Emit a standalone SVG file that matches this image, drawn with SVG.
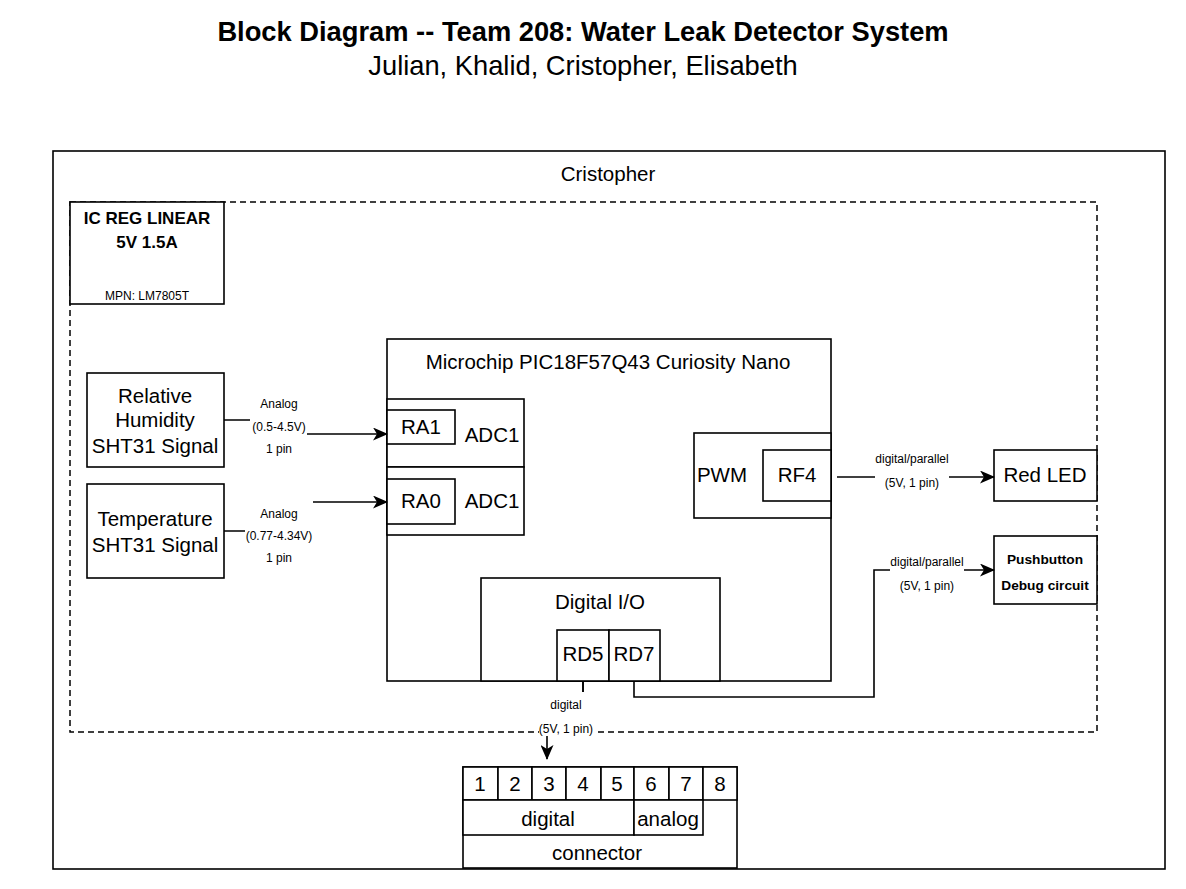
<svg xmlns="http://www.w3.org/2000/svg" width="1186" height="889" viewBox="0 0 1186 889">
<defs>
<style>
.b{fill:#fff;stroke:#000;stroke-width:1.6}
.n{fill:none;stroke:#000;stroke-width:1.6}
.d{fill:none;stroke:#000;stroke-width:1.5;stroke-dasharray:6 4}
text{font-family:"Liberation Sans",Arial,sans-serif;fill:#000;text-anchor:middle}
.t19{font-size:20.5px}
.t11{font-size:12px}
.bold{font-weight:bold}
.lbg{fill:#fff;stroke:none}
</style>
<marker id="arr" viewBox="0 0 15 13" refX="14" refY="6.5" markerWidth="15" markerHeight="13" markerUnits="userSpaceOnUse" orient="auto">
<path d="M0 0 L15 6.5 L0 13 L4 6.5 Z" fill="#000"/>
</marker>
</defs>
<rect width="1186" height="889" fill="#fff"/>
<g id="title">
<text x="583" y="41" class="bold" style="font-size:27.3px">Block Diagram -- Team 208: Water Leak Detector System</text>
<text x="583" y="75" style="font-size:27.3px">Julian, Khalid, Cristopher, Elisabeth</text>
</g>
<g id="outer">
<rect x="53" y="151" width="1112" height="718" class="b"/>
<text x="608" y="181" class="t19">Cristopher</text>
</g>
<g id="dashed">
<rect x="70" y="202" width="1027" height="530" class="d"/>
</g>
<g id="icreg">
<rect x="70" y="202" width="154" height="102" class="b"/>
<text x="147" y="224" class="bold" style="font-size:17px">IC REG LINEAR</text>
<text x="147" y="248" class="bold" style="font-size:17px">5V 1.5A</text>
<text x="147" y="300" class="t11">MPN: LM7805T</text>
</g>
<g id="humidity">
<rect x="87" y="373" width="137" height="94" class="b"/>
<text x="155" y="403" class="t19">Relative</text>
<text x="155" y="427" class="t19">Humidity</text>
<text x="155" y="453" class="t19">SHT31 Signal</text>
</g>
<g id="temperature">
<rect x="87" y="484" width="137" height="94" class="b"/>
<text x="155" y="526" class="t19">Temperature</text>
<text x="155" y="552" class="t19">SHT31 Signal</text>
</g>
<g id="mcu">
<rect x="387" y="339" width="444" height="342" class="b"/>
<text x="608" y="369" class="t19">Microchip PIC18F57Q43 Curiosity Nano</text>
</g>
<g id="adc1a">
<rect x="387" y="399" width="137" height="68" class="b"/>
<text x="492" y="442" class="t19">ADC1</text>
</g>
<g id="ra1">
<rect x="387" y="410" width="68" height="34" class="b"/>
<text x="421" y="434" class="t19">RA1</text>
</g>
<g id="adc1b">
<rect x="387" y="467" width="137" height="68" class="b"/>
<text x="492" y="508" class="t19">ADC1</text>
</g>
<g id="ra0">
<rect x="387" y="479" width="68" height="45" class="b"/>
<text x="421" y="508" class="t19">RA0</text>
</g>
<g id="pwm">
<rect x="694" y="433" width="137" height="85" class="b"/>
<text x="722" y="482" class="t19">PWM</text>
</g>
<g id="rf4">
<rect x="763" y="450" width="68" height="51" class="b"/>
<text x="797" y="482" class="t19">RF4</text>
</g>
<g id="digitalio">
<rect x="481" y="578" width="239" height="103" class="b"/>
<text x="600" y="609" class="t19">Digital I/O</text>
</g>
<g id="rd5">
<rect x="557" y="630" width="52" height="51" class="b"/>
<text x="583" y="661" class="t19">RD5</text>
</g>
<g id="rd7">
<rect x="609" y="630" width="51" height="51" class="b"/>
<text x="634" y="661" class="t19">RD7</text>
</g>
<g id="redled">
<rect x="994" y="450" width="103" height="51" class="b"/>
<text x="1045" y="482" class="t19">Red LED</text>
</g>
<g id="pushbutton">
<rect x="994" y="536" width="103" height="68" class="b"/>
<text x="1045" y="564" class="bold" style="font-size:13.7px">Pushbutton</text>
<text x="1045" y="590" class="bold" style="font-size:13.7px">Debug circuit</text>
</g>
<g id="connector">
<rect x="463" y="767" width="274" height="101" class="b"/>
<rect x="463" y="767" width="35" height="33" class="b"/>
<rect x="498" y="767" width="34" height="33" class="b"/>
<rect x="532" y="767" width="34" height="33" class="b"/>
<rect x="566" y="767" width="35" height="33" class="b"/>
<rect x="601" y="767" width="33" height="33" class="b"/>
<rect x="634" y="767" width="35" height="33" class="b"/>
<rect x="669" y="767" width="34" height="33" class="b"/>
<rect x="703" y="767" width="34" height="33" class="b"/>
<text x="480" y="791" class="t19">1</text>
<text x="515" y="791" class="t19">2</text>
<text x="549" y="791" class="t19">3</text>
<text x="583" y="791" class="t19">4</text>
<text x="617" y="791" class="t19">5</text>
<text x="651" y="791" class="t19">6</text>
<text x="686" y="791" class="t19">7</text>
<text x="720" y="791" class="t19">8</text>
<rect x="463" y="800" width="171" height="35" class="b"/>
<text x="548" y="826" class="t19">digital</text>
<rect x="634" y="800" width="69" height="35" class="b"/>
<text x="668" y="826" class="t19">analog</text>
<text x="597" y="860" class="t19">connector</text>
</g>
<g id="connectors">
<path d="M224 420 H279 V434 H387" class="n" marker-end="url(#arr)"/>
<rect x="250" y="395" width="57" height="60" class="lbg"/>
<text x="279" y="408" class="t11">Analog</text>
<text x="279" y="431" class="t11">(0.5-4.5V)</text>
<text x="279" y="453" class="t11">1 pin</text>
<path d="M224 531 H279 V502 H387" class="n" marker-end="url(#arr)"/>
<rect x="245" y="500" width="68" height="64" class="lbg"/>
<text x="279" y="518" class="t11">Analog</text>
<text x="279" y="540" class="t11">(0.77-4.34V)</text>
<text x="279" y="562" class="t11">1 pin</text>
<path d="M837 477 H994" class="n" marker-end="url(#arr)"/>
<rect x="875" y="450" width="74" height="40" class="lbg"/>
<text x="912" y="463" class="t11">digital/parallel</text>
<text x="912" y="487" class="t11">(5V, 1 pin)</text>
<path d="M634 681 V697 H874 V570 H994" class="n" marker-end="url(#arr)"/>
<rect x="890" y="555" width="74" height="40" class="lbg"/>
<text x="927" y="566" class="t11">digital/parallel</text>
<text x="927" y="590" class="t11">(5V, 1 pin)</text>
<path d="M583 681 V712 H547 V759" class="n" marker-end="url(#arr)"/>
<rect x="539" y="692" width="56" height="44" class="lbg"/>
<line x1="583" y1="681" x2="583" y2="692" class="n"/>
<text x="566" y="709" class="t11">digital</text>
<text x="566" y="733" class="t11">(5V, 1 pin)</text>
</g>
</svg>
